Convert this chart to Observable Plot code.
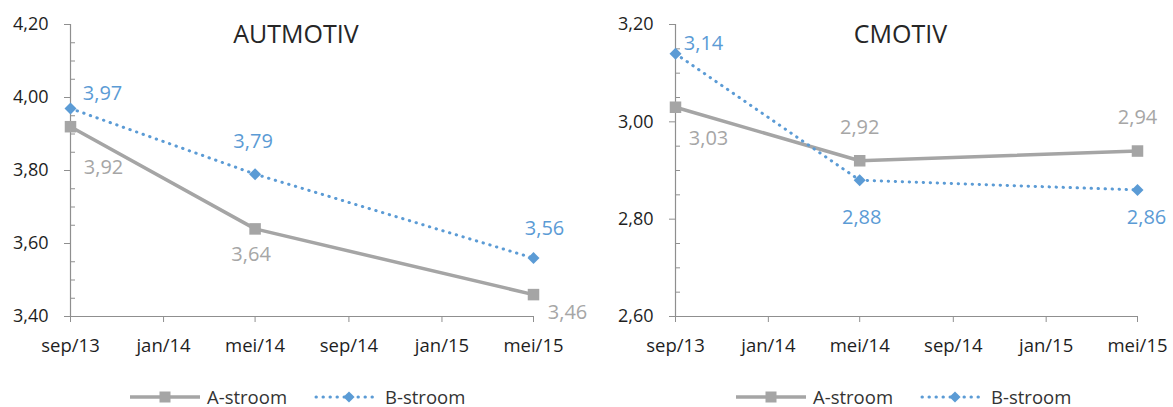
<!DOCTYPE html>
<html>
<head>
<meta charset="utf-8">
<script src="https://cdn.jsdelivr.net/npm/d3@7"></script>
<script src="https://cdn.jsdelivr.net/npm/@observablehq/plot@0.6"></script>
<style>
  html, body { margin: 0; padding: 0; background: #fff; }
  body { width: 1173px; height: 407px; position: relative; overflow: hidden; font-family: "Open Sans", sans-serif; }
  .panel { position: absolute; top: 0; }
  .legend { position: absolute; top: 387px; display: flex; align-items: center; font-size: 18.5px; line-height: 20px; color: #333; height: 20px; }
  .legend svg { display: block; }
</style>
</head>
<body>
<div id="left" class="panel" style="left:0"></div>
<div id="right" class="panel" style="left:590px"></div>
<div class="legend" id="legLeft" style="left:130px"></div>
<div class="legend" id="legRight" style="left:736px"></div>
<script>
// Measurement months (yyyy-mm) and the two streams per motivation scale
const dates = ["2013-09", "2014-05", "2015-05"];
const autA = [3.92, 3.64, 3.46];
const autB = [3.97, 3.79, 3.56];
const cmA = [3.03, 2.92, 2.94];
const cmB = [3.14, 2.88, 2.86];

// Axis ticks
const tickDates = ["2013-09", "2014-01", "2014-05", "2014-09", "2015-01", "2015-05"];
const tickLabels = ["sep/13", "jan/14", "mei/14", "sep/14", "jan/15", "mei/15"];
const autYTicks = [3.4, 3.6, 3.8, 4.0, 4.2];
const cmYTicks = [2.6, 2.8, 3.0, 3.2];

const seriesNames = ["A-stroom", "B-stroom"];
const colorA = "#a5a5a5";
const colorB = "#5b9bd5";
const axisColor = "#8f8f8f";
const textColor = "#1e1e1e";
const dotted = {strokeWidth: 3, strokeDasharray: "0.4,6.6", strokeLinecap: "round"};

const parse = d3.utcParse("%Y-%m");
const fmt = d => d.toFixed(2).replace(".", ",");
const tickMs = tickDates.map(d => +parse(d));

// Value-label offsets (dx, dy) for each point, in pixels
const offsets = {
  autA: [[33, 41], [-4, 26], [34, 18]],
  autB: [[32, -15], [-2, -33], [11, -30]],
  cmA: [[33, 31], [0, -33], [0, -33]],
  cmB: [[28, -10], [2, 37], [9, 28]]
};

function rows(values) {
  return dates.map((d, i) => ({date: parse(d), value: values[i]}));
}

function panel({title, a, b, offA, offB, yTicks, width, marginLeft, marginRight}) {
  const height = 370, marginTop = 24, marginBottom = 54;
  const plotW = width - marginLeft - marginRight;
  const yDomain = [yTicks[0], yTicks[yTicks.length - 1]];
  const minor = d3.range(yDomain[0], yDomain[1] + 1e-9, 0.05)
    .filter(v => !yTicks.some(t => Math.abs(t - v) < 1e-6));
  const A = rows(a), B = rows(b);
  const xDomain = [parse(dates[0]), parse(dates[dates.length - 1])];

  const labels = (data, offs, color) => data.map((d, i) =>
    Plot.text([d], {x: "date", y: "value", text: r => fmt(r.value),
      dx: offs[i][0], dy: offs[i][1], fill: color, fontSize: 20, textAnchor: "middle"}));

  return Plot.plot({
    width, height, marginLeft, marginRight, marginTop, marginBottom,
    style: {fontFamily: "'Open Sans', sans-serif", fontSize: "18px", color: textColor, background: "transparent"},
    x: {type: "utc", domain: xDomain, axis: null},
    y: {domain: yDomain, axis: null},
    marks: [
      Plot.ruleY([yDomain[0]], {stroke: axisColor, strokeWidth: 1.2}),
      Plot.ruleX([xDomain[0]], {stroke: axisColor, strokeWidth: 1.2}),
      Plot.tickY(minor, {y: d => d, insetRight: plotW - 5, stroke: axisColor}),
      Plot.axisY({ticks: yTicks, tickSize: 6, text: null, stroke: axisColor, label: null}),
      Plot.axisY({ticks: yTicks, tickSize: 0, tickPadding: 22, tickFormat: fmt, fill: textColor, label: null, fontSize: 18}),
      Plot.axisX({ticks: tickDates.map(parse), tickSize: 6, text: null, stroke: axisColor, label: null}),
      Plot.axisX({ticks: tickDates.map(parse), tickSize: 0, tickPadding: 22,
        tickFormat: d => tickLabels[tickMs.indexOf(+d)], fill: textColor, label: null, fontSize: 18.5}),
      Plot.line(A, {x: "date", y: "value", stroke: colorA, strokeWidth: 3.5}),
      Plot.line(B, {x: "date", y: "value", stroke: colorB, ...dotted}),
      Plot.dot(A, {x: "date", y: "value", symbol: d3.symbolSquare, r: 6.5, fill: colorA}),
      Plot.dot(B, {x: "date", y: "value", symbol: d3.symbolDiamond2, r: 5.4, fill: colorB}),
      ...labels(A, offA, "#a6a6a6"),
      ...labels(B, offB, colorB),
      Plot.text([title], {frameAnchor: "top", dy: 10, dx: -6, lineAnchor: "middle", fontSize: 25, fill: "#262626"})
    ]
  });
}

document.getElementById("left").append(panel({
  title: "AUTMOTIV", a: autA, b: autB, offA: offsets.autA, offB: offsets.autB,
  yTicks: autYTicks, width: 590, marginLeft: 70, marginRight: 57
}));
document.getElementById("right").append(panel({
  title: "CMOTIV", a: cmA, b: cmB, offA: offsets.cmA, offB: offsets.cmB,
  yTicks: cmYTicks, width: 583, marginLeft: 85, marginRight: 36
}));

// Legend: line-with-marker swatches followed by the series name
function swatch(kind) {
  const w = kind === "A" ? 70 : 64, h = 20;
  const svg = d3.create("svg").attr("width", w).attr("height", h);
  if (kind === "A") {
    svg.append("line").attr("x1", 0).attr("x2", w).attr("y1", h / 2).attr("y2", h / 2)
      .attr("stroke", colorA).attr("stroke-width", 3.5);
    svg.append("rect").attr("x", w / 2 - 5.5).attr("y", h / 2 - 5.5).attr("width", 11).attr("height", 11).attr("fill", colorA);
  } else {
    svg.append("line").attr("x1", 2).attr("x2", w).attr("y1", h / 2).attr("y2", h / 2)
      .attr("stroke", colorB).attr("stroke-width", dotted.strokeWidth)
      .attr("stroke-dasharray", dotted.strokeDasharray).attr("stroke-linecap", "round");
    svg.append("path").attr("transform", `translate(${w / 2 + 3},${h / 2})`)
      .attr("d", d3.symbol(d3.symbolDiamond2, 80)()).attr("fill", colorB);
  }
  return svg.node();
}
function legend(id) {
  const el = document.getElementById(id);
  ["A", "B"].forEach((k, i) => {
    const sw = swatch(k);
    sw.style.marginLeft = i === 0 ? "0px" : "27px";
    el.append(sw);
    const t = document.createElement("span");
    t.textContent = seriesNames[i];
    t.style.marginLeft = "7px";
    el.append(t);
  });
}
legend("legLeft");
legend("legRight");
</script>
</body>
</html>
